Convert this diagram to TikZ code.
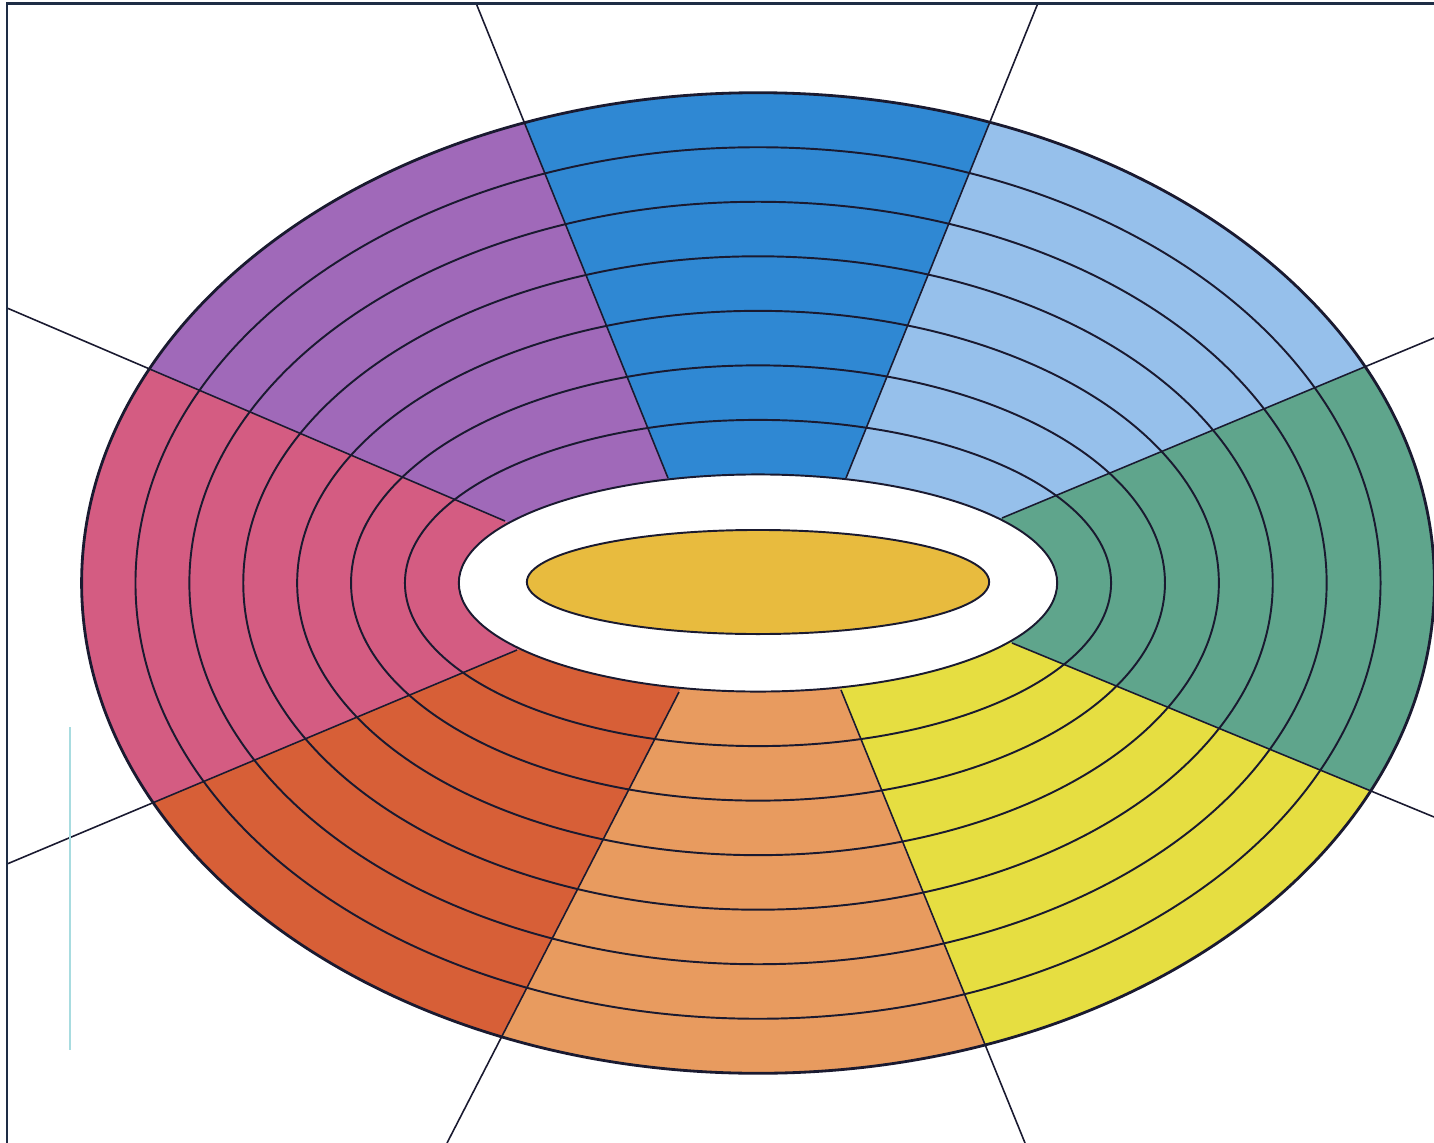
\documentclass[tikz,border=0pt]{standalone}
\usepackage{tikz}
\usetikzlibrary{calc}

% Sector colours
\definecolor{cpurple}{HTML}{A069B9}
\definecolor{cblue}{HTML}{2F88D3}
\definecolor{clight}{HTML}{96C0EB}
\definecolor{cgreen}{HTML}{5FA58C}
\definecolor{cyellow}{HTML}{E6DE41}
\definecolor{corange}{HTML}{E89B5F}
\definecolor{cred}{HTML}{D75F37}
\definecolor{cpink}{HTML}{D45C82}
\definecolor{cgold}{HTML}{E8BB3E}
\definecolor{cframe}{HTML}{1E2D45}
\definecolor{cscan}{HTML}{A8DCE0}
\definecolor{cink}{HTML}{1A1A30}

\tikzset{
    % Outlines
    ringline/.style  = {draw=cink, line width=0.55pt},
    rimline/.style   = {draw=cink, line width=0.8pt},
    radial/.style    = {draw=cink, line width=0.45pt},
    frameline/.style = {draw=cframe, line width=0.8pt},
    % Centre pieces
    hole/.style      = {ringline, fill=white},
    core/.style      = {ringline, fill=cgold}
}

% wedge between two radial lines, pushed far out and into the hole
\newcommand{\fillsector}[3]{%
  \fill[#1] ($(#2i)!2.5!(#2o)$) -- ($(#2o)!1.25!(#2i)$) -- (ctr)
    -- ($(#3o)!1.25!(#3i)$) -- ($(#3i)!2.5!(#3o)$) -- cycle;}

\begin{document}
\begin{tikzpicture}[x=0.01cm, y=-0.01cm]

    \useasboundingbox (0,0) rectangle (1434,1143);
    \fill[white] (0,0) rectangle (1434,1143);
    \clip (0,0) rectangle (1434,1143);

    % Centre and radial lines (outer end, inner end)
    \coordinate (ctr) at (758,583);
    \coordinate (l1o) at (476,3);    \coordinate (l1i) at (668,478);
    \coordinate (l2o) at (1038,3);   \coordinate (l2i) at (846,478);
    \coordinate (l3o) at (1434,338); \coordinate (l3i) at (1002,518);
    \coordinate (l4o) at (1434,817); \coordinate (l4i) at (1012,643);
    \coordinate (l5o) at (1025,1143);\coordinate (l5i) at (841,690);
    \coordinate (l6o) at (447,1143); \coordinate (l6i) at (679,692);
    \coordinate (l7o) at (7,864);    \coordinate (l7i) at (517,650);
    \coordinate (l8o) at (7,308);    \coordinate (l8i) at (505,521);

    % --- Sectors ---
    \begin{scope}
        \clip (ctr) ellipse [x radius=6.76cm, y radius=4.90cm];
        \fillsector{cblue}{l1}{l2}
        \fillsector{clight}{l2}{l3}
        \fillsector{cgreen}{l3}{l4}
        \fillsector{cyellow}{l4}{l5}
        \fillsector{corange}{l5}{l6}
        \fillsector{cred}{l6}{l7}
        \fillsector{cpink}{l7}{l8}
        \fillsector{cpurple}{l8}{l1}
    \end{scope}

    % --- Rings ---
    \foreach \k in {1,...,6} {
        \pgfmathsetmacro{\rx}{2.99+0.5386*\k}
        \pgfmathsetmacro{\ry}{1.085+0.545*\k}
        \draw[ringline] (ctr) ellipse [x radius=\rx cm, y radius=\ry cm];
    }

    % --- Radial lines ---
    \foreach \n in {1,...,8}
        \draw[radial] (l\n o) -- (l\n i);

    \draw[rimline] (ctr) ellipse [x radius=6.76cm, y radius=4.90cm];

    % --- Centre ---
    \draw[hole] (ctr) ellipse [x radius=2.99cm, y radius=1.085cm];
    \draw[core] (758,582) ellipse [x radius=2.31cm, y radius=0.52cm];

    % Frame and scan mark
    \draw[frameline] (7,1143) -- (7,3.5) -- (1434,3.5);
    \draw[cscan, line width=0.35pt] (70,727) -- (70,1050);

\end{tikzpicture}
\end{document}
